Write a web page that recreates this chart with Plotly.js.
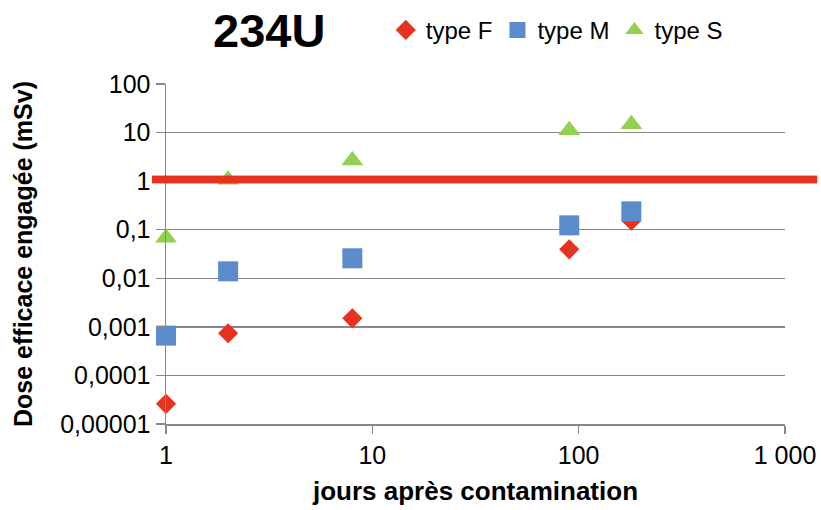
<!DOCTYPE html>
<html>
<head>
<meta charset="utf-8">
<script src="https://cdn.plot.ly/plotly-3.0.1.min.js"></script>
<style>html,body{margin:0;padding:0;background:#fff;}#chart{width:821px;height:510px;}</style>
</head>
<body>
<div id="chart"></div>
<script>
// Data
const days = [1, 2, 8, 90, 180];
const typeF = [0.000026, 0.00074, 0.0015, 0.0395, 0.153];
const typeM = [0.00066, 0.0139, 0.0258, 0.123, 0.239];
const typeS = [0.068, 1.07, 2.66, 11.2, 14.8];
const limitValue = 1.08;

const seriesNames = ['type F', 'type M', 'type S'];
const yTickVals = [100, 10, 1, 0.1, 0.01, 0.001, 0.0001, 0.00001];
const yTickText = ['100', '10', '1', '0,1', '0,01', '0,001', '0,0001', '0,00001'];
const xTickVals = [1, 10, 100, 1000];
const xTickText = ['1', '10', '100', '1 000'];

const FONT = 'Liberation Sans, Arial, sans-serif';
const GRID = '#888888';

const traces = [
  {x: days, y: typeF, name: seriesNames[0], type: 'scatter', mode: 'markers', cliponaxis: false,
   marker: {symbol: 'diamond', size: 15.5, color: '#e6321f', line: {width: 0}}},
  {x: days, y: typeM, name: seriesNames[1], type: 'scatter', mode: 'markers', cliponaxis: false,
   marker: {symbol: 'square', size: 20, color: '#5b8bcb', line: {width: 0}}},
  {x: days, y: typeS, name: seriesNames[2], type: 'scatter', mode: 'markers', cliponaxis: false,
   marker: {symbol: 'triangle-up', size: 19, color: '#92d050', line: {width: 0}}}
];

const layout = {
  width: 821, height: 510,
  margin: {l: 166, r: 36, t: 84, b: 86, autoexpand: false},
  paper_bgcolor: '#ffffff', plot_bgcolor: '#ffffff',
  font: {family: FONT, color: '#000000', size: 22},
  title: {text: '<b>234U</b>', font: {family: FONT, size: 47, color: '#000'},
          xref: 'container', yref: 'container', x: 0.328, xanchor: 'center', y: 0.94, yanchor: 'middle'},
  showlegend: true,
  legend: {orientation: 'h', x: 0.355, xanchor: 'left', y: 1.158, yanchor: 'middle',
           font: {family: FONT, size: 24, color: '#000'}, itemwidth: 30, tracegroupgap: 0,
           bgcolor: 'rgba(0,0,0,0)'},
  xaxis: {type: 'log', range: [0, 3], tickvals: xTickVals, ticktext: xTickText,
          showgrid: false, zeroline: false, showline: true, linecolor: GRID, linewidth: 1.5,
          ticks: 'outside', ticklen: 8, tickcolor: GRID, tickwidth: 1.5,
          tickfont: {family: FONT, size: 25, color: '#000'},
          title: {text: '<b>jours après contamination</b>', font: {family: FONT, size: 26, color: '#000'}, standoff: 14}},
  yaxis: {type: 'log', range: [-5, 2], tickvals: yTickVals, ticktext: yTickText,
          showgrid: true, gridcolor: GRID, gridwidth: 1.5, zeroline: false,
          showline: true, linecolor: GRID, linewidth: 1.5,
          ticks: 'outside', ticklen: 9, tickcolor: GRID, tickwidth: 1.5,
          tickfont: {family: FONT, size: 25, color: '#000'},
          title: {text: '<b>Dose efficace engagée (mSv)</b>', font: {family: FONT, size: 25, color: '#000'}, standoff: 20}},
  shapes: [
    {type: 'line', xref: 'paper', yref: 'y', x0: -0.0226, x1: 1.052,
     ysizemode: 'pixel', yanchor: limitValue, y0: -3, y1: -3,
     line: {color: 'rgba(0,0,0,0.13)', width: 9}, layer: 'above'},
    {type: 'line', xref: 'paper', yref: 'y', x0: -0.0226, x1: 1.052,
     y0: limitValue, y1: limitValue,
     line: {color: '#e6321f', width: 7.5}, layer: 'above'}
  ]
};

Plotly.newPlot('chart', traces, layout, {displayModeBar: false, staticPlot: true});
</script>
</body>
</html>
